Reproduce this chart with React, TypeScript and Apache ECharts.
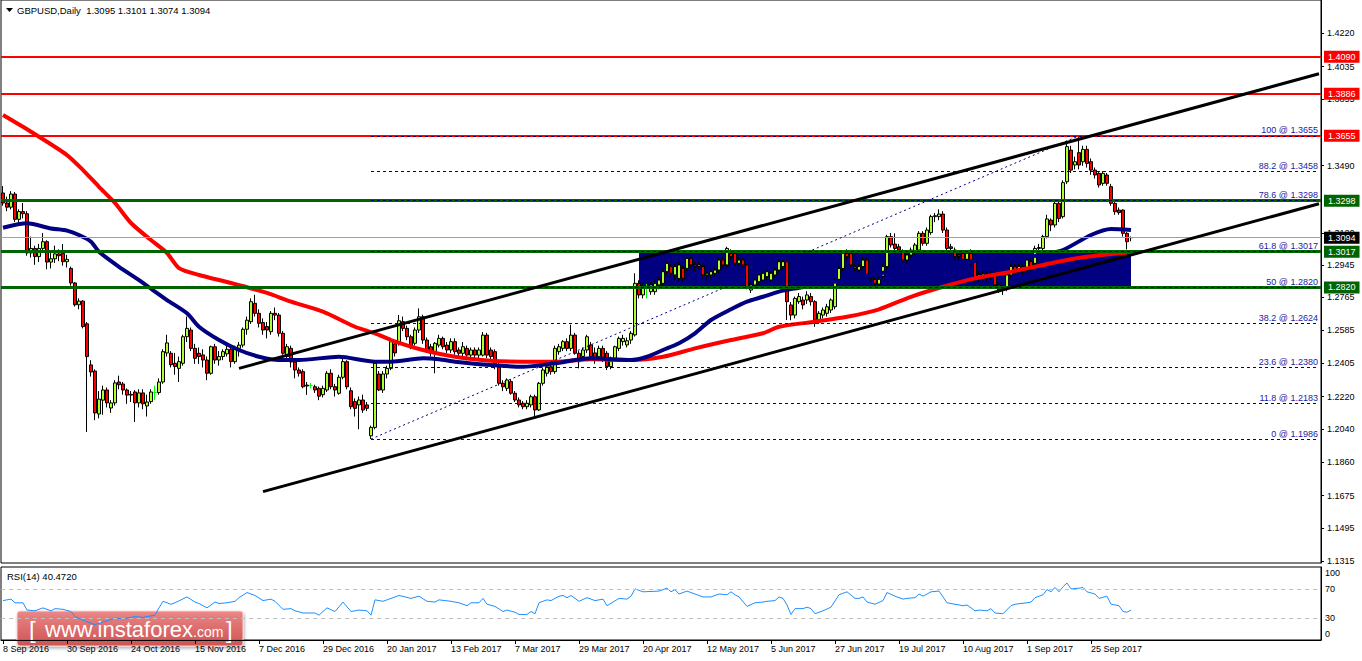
import React, { useEffect, useRef } from 'react';
import * as echarts from 'echarts';

const FONT = '"Liberation Sans", Arial, Helvetica, sans-serif';

const headerText = 'GBPUSD,Daily  1.3095 1.3101 1.3074 1.3094';
const rsiTitle = 'RSI(14) 40.4720';
const MONTHS = ['Jan', 'Feb', 'Mar', 'Apr', 'May', 'Jun', 'Jul', 'Aug', 'Sep', 'Oct', 'Nov', 'Dec'];
const SLOTS = 330;
const LABEL_STEP = 16;
const LAST_BAR = 282;

// daily bars: [open, close, low, high]
const candles: number[][] = [
  [1.3340, 1.3285, 1.3270, 1.3378], [1.3285, 1.3262, 1.3240, 1.3320], [1.3262, 1.3334, 1.3250, 1.3350], [1.3334, 1.3195, 1.3180, 1.3345],
  [1.3195, 1.3238, 1.3175, 1.3250], [1.3238, 1.3226, 1.3200, 1.3285], [1.3226, 1.3010, 1.2995, 1.3240], [1.3010, 1.3035, 1.2985, 1.3100],
  [1.3035, 1.2990, 1.2945, 1.3050], [1.2990, 1.3035, 1.2960, 1.3060], [1.3035, 1.3072, 1.3020, 1.3120], [1.3072, 1.2960, 1.2920, 1.3080],
  [1.2960, 1.2978, 1.2925, 1.3010], [1.2978, 1.3005, 1.2955, 1.3050], [1.3005, 1.2995, 1.2965, 1.3030], [1.3008, 1.2962, 1.2940, 1.3059],
  [1.2962, 1.2975, 1.2930, 1.3000], [1.2925, 1.2845, 1.2830, 1.2935], [1.2845, 1.2725, 1.2715, 1.2850], [1.2725, 1.2745, 1.2700, 1.2760],
  [1.2745, 1.2605, 1.2595, 1.2750], [1.2620, 1.2440, 1.2025, 1.2630], [1.2394, 1.2355, 1.2330, 1.2420], [1.2360, 1.2130, 1.2090, 1.2370],
  [1.2124, 1.2206, 1.2100, 1.2250], [1.2200, 1.2256, 1.2120, 1.2280], [1.2256, 1.2185, 1.2160, 1.2270], [1.2157, 1.2185, 1.2130, 1.2200],
  [1.2185, 1.2295, 1.2170, 1.2310], [1.2300, 1.2285, 1.2260, 1.2335], [1.2289, 1.2256, 1.2230, 1.2300], [1.2256, 1.2228, 1.2180, 1.2265],
  [1.2228, 1.2232, 1.2190, 1.2250], [1.2245, 1.2185, 1.2080, 1.2255], [1.2185, 1.2240, 1.2160, 1.2260], [1.2240, 1.2180, 1.2150, 1.2260],
  [1.2168, 1.2190, 1.2110, 1.2230], [1.2192, 1.2245, 1.2180, 1.2260], [1.2242, 1.2242, 1.2200, 1.2280], [1.2242, 1.2300, 1.2230, 1.2320],
  [1.2300, 1.2467, 1.2290, 1.2480], [1.2460, 1.2515, 1.2440, 1.2560], [1.2458, 1.2395, 1.2380, 1.2470], [1.2403, 1.2385, 1.2340, 1.2460],
  [1.2375, 1.2412, 1.2300, 1.2440], [1.2403, 1.2549, 1.2390, 1.2560], [1.2549, 1.2595, 1.2520, 1.2660], [1.2586, 1.2485, 1.2470, 1.2600],
  [1.2485, 1.2430, 1.2400, 1.2510], [1.2458, 1.2440, 1.2400, 1.2490], [1.2449, 1.2421, 1.2380, 1.2480], [1.2421, 1.2348, 1.2310, 1.2440],
  [1.2348, 1.2494, 1.2340, 1.2500], [1.2494, 1.2421, 1.2400, 1.2510], [1.2421, 1.2440, 1.2390, 1.2470], [1.2440, 1.2467, 1.2420, 1.2480],
  [1.2455, 1.2480, 1.2440, 1.2510], [1.2480, 1.2412, 1.2380, 1.2500], [1.2412, 1.2485, 1.2400, 1.2500], [1.2485, 1.2503, 1.2440, 1.2520],
  [1.2503, 1.2590, 1.2490, 1.2600], [1.2590, 1.2640, 1.2560, 1.2660], [1.2632, 1.2742, 1.2620, 1.2760], [1.2733, 1.2678, 1.2660, 1.2780],
  [1.2678, 1.2623, 1.2600, 1.2700], [1.2627, 1.2586, 1.2560, 1.2650], [1.2605, 1.2586, 1.2540, 1.2630], [1.2577, 1.2678, 1.2560, 1.2690],
  [1.2678, 1.2668, 1.2640, 1.2710], [1.2668, 1.2568, 1.2550, 1.2680], [1.2568, 1.2458, 1.2450, 1.2580], [1.2440, 1.2494, 1.2420, 1.2510],
  [1.2485, 1.2410, 1.2380, 1.2500], [1.2410, 1.2366, 1.2320, 1.2420], [1.2366, 1.2348, 1.2330, 1.2380], [1.2357, 1.2274, 1.2265, 1.2370],
  [1.2283, 1.2278, 1.2229, 1.2300], [1.2281, 1.2281, 1.2265, 1.2295], [1.2274, 1.2256, 1.2240, 1.2285], [1.2265, 1.2222, 1.2200, 1.2275],
  [1.2230, 1.2265, 1.2215, 1.2280], [1.2256, 1.2348, 1.2245, 1.2360], [1.2348, 1.2274, 1.2260, 1.2370], [1.2274, 1.2256, 1.2220, 1.2290],
  [1.2238, 1.2326, 1.2230, 1.2340], [1.2326, 1.2412, 1.2315, 1.2430], [1.2412, 1.2274, 1.2260, 1.2420], [1.2252, 1.2164, 1.2150, 1.2270],
  [1.2192, 1.2155, 1.2110, 1.2210], [1.2174, 1.2201, 1.2040, 1.2220], [1.2201, 1.2146, 1.2130, 1.2230], [1.2174, 1.2155, 1.2140, 1.2190],
  [1.2004, 1.2050, 1.1986, 1.2060], [1.2050, 1.2403, 1.2040, 1.2415], [1.2344, 1.2256, 1.2250, 1.2360], [1.2256, 1.2344, 1.2240, 1.2360],
  [1.2344, 1.2375, 1.2320, 1.2390], [1.2375, 1.2522, 1.2365, 1.2530], [1.2510, 1.2460, 1.2440, 1.2520], [1.2513, 1.2637, 1.2500, 1.2669],
  [1.2632, 1.2595, 1.2580, 1.2660], [1.2595, 1.2549, 1.2530, 1.2610], [1.2549, 1.2494, 1.2480, 1.2560], [1.2513, 1.2586, 1.2500, 1.2600],
  [1.2586, 1.2659, 1.2570, 1.2705], [1.2659, 1.2531, 1.2510, 1.2670], [1.2531, 1.2476, 1.2460, 1.2545], [1.2494, 1.2458, 1.2440, 1.2510],
  [1.2458, 1.2513, 1.2348, 1.2520], [1.2503, 1.2540, 1.2490, 1.2560], [1.2540, 1.2494, 1.2480, 1.2550], [1.2503, 1.2476, 1.2460, 1.2520],
  [1.2476, 1.2522, 1.2460, 1.2540], [1.2522, 1.2467, 1.2450, 1.2540], [1.2476, 1.2458, 1.2440, 1.2490], [1.2458, 1.2494, 1.2440, 1.2520],
  [1.2485, 1.2448, 1.2420, 1.2500], [1.2448, 1.2476, 1.2430, 1.2490], [1.2476, 1.2448, 1.2430, 1.2490], [1.2448, 1.2476, 1.2430, 1.2490],
  [1.2448, 1.2558, 1.2440, 1.2575], [1.2558, 1.2448, 1.2430, 1.2570], [1.2476, 1.2440, 1.2420, 1.2490], [1.2467, 1.2385, 1.2370, 1.2480],
  [1.2394, 1.2293, 1.2280, 1.2410], [1.2293, 1.2274, 1.2250, 1.2310], [1.2265, 1.2311, 1.2250, 1.2320], [1.2302, 1.2238, 1.2230, 1.2315],
  [1.2238, 1.2201, 1.2190, 1.2250], [1.2201, 1.2174, 1.2160, 1.2215], [1.2183, 1.2164, 1.2150, 1.2195], [1.2164, 1.2183, 1.2150, 1.2200],
  [1.2174, 1.2219, 1.2160, 1.2230], [1.2219, 1.2146, 1.2109, 1.2230], [1.2146, 1.2293, 1.2140, 1.2300], [1.2293, 1.2366, 1.2280, 1.2380],
  [1.2348, 1.2384, 1.2330, 1.2400], [1.2384, 1.2357, 1.2340, 1.2395], [1.2357, 1.2485, 1.2345, 1.2500], [1.2467, 1.2494, 1.2450, 1.2510],
  [1.2485, 1.2522, 1.2470, 1.2530], [1.2522, 1.2485, 1.2470, 1.2540], [1.2485, 1.2558, 1.2470, 1.2615], [1.2558, 1.2458, 1.2450, 1.2570],
  [1.2458, 1.2412, 1.2375, 1.2470], [1.2440, 1.2476, 1.2420, 1.2490], [1.2476, 1.2549, 1.2460, 1.2560], [1.2504, 1.2440, 1.2430, 1.2520],
  [1.2460, 1.2421, 1.2400, 1.2490], [1.2439, 1.2485, 1.2430, 1.2500], [1.2485, 1.2430, 1.2410, 1.2500], [1.2458, 1.2385, 1.2366, 1.2470],
  [1.2385, 1.2430, 1.2370, 1.2440], [1.2430, 1.2494, 1.2420, 1.2500], [1.2485, 1.2540, 1.2470, 1.2550], [1.2522, 1.2540, 1.2500, 1.2560],
  [1.2504, 1.2527, 1.2490, 1.2545], [1.2531, 1.2568, 1.2510, 1.2580], [1.2559, 1.2843, 1.2550, 1.2898], [1.2843, 1.2779, 1.2760, 1.2860],
  [1.2779, 1.2824, 1.2760, 1.2840], [1.2815, 1.2815, 1.2760, 1.2840], [1.2797, 1.2834, 1.2780, 1.2850], [1.2797, 1.2843, 1.2780, 1.2860],
  [1.2834, 1.2861, 1.2810, 1.2880], [1.2843, 1.2907, 1.2830, 1.2920], [1.2907, 1.2953, 1.2890, 1.2965], [1.2935, 1.2898, 1.2880, 1.2950],
  [1.2889, 1.2935, 1.2860, 1.2950], [1.2870, 1.2944, 1.2850, 1.2960], [1.2925, 1.2870, 1.2850, 1.2940], [1.2925, 1.2980, 1.2910, 1.2990],
  [1.2980, 1.2944, 1.2930, 1.2990], [1.2944, 1.2935, 1.2910, 1.2960], [1.2935, 1.2944, 1.2920, 1.2960], [1.2935, 1.2889, 1.2870, 1.2950],
  [1.2889, 1.2898, 1.2860, 1.2910], [1.2889, 1.2907, 1.2870, 1.2920], [1.2898, 1.2916, 1.2880, 1.2930], [1.2916, 1.2971, 1.2900, 1.2985],
  [1.2971, 1.2944, 1.2930, 1.2990], [1.2944, 1.3035, 1.2930, 1.3044], [1.3008, 1.2990, 1.2970, 1.3030], [1.3008, 1.2953, 1.2940, 1.3020],
  [1.2953, 1.2971, 1.2940, 1.2985], [1.2971, 1.2944, 1.2930, 1.2985], [1.2944, 1.2824, 1.2810, 1.2950], [1.2806, 1.2834, 1.2790, 1.2845],
  [1.2834, 1.2861, 1.2820, 1.2870], [1.2852, 1.2889, 1.2840, 1.2900], [1.2861, 1.2898, 1.2850, 1.2910], [1.2880, 1.2907, 1.2860, 1.2920],
  [1.2861, 1.2898, 1.2850, 1.2910], [1.2889, 1.2916, 1.2870, 1.2930], [1.2916, 1.2962, 1.2900, 1.2975], [1.2935, 1.2962, 1.2920, 1.2975],
  [1.2962, 1.2742, 1.2641, 1.2975], [1.2724, 1.2668, 1.2640, 1.2740], [1.2668, 1.2760, 1.2650, 1.2770], [1.2742, 1.2770, 1.2730, 1.2790],
  [1.2751, 1.2724, 1.2700, 1.2770], [1.2751, 1.2779, 1.2730, 1.2800], [1.2770, 1.2742, 1.2720, 1.2790], [1.2742, 1.2641, 1.2604, 1.2750],
  [1.2641, 1.2678, 1.2620, 1.2690], [1.2668, 1.2696, 1.2650, 1.2710], [1.2678, 1.2714, 1.2660, 1.2730], [1.2696, 1.2751, 1.2680, 1.2760],
  [1.2714, 1.2861, 1.2700, 1.2870], [1.2861, 1.2925, 1.2850, 1.2940], [1.2925, 1.3008, 1.2910, 1.3026], [1.3008, 1.2990, 1.2970, 1.3030],
  [1.3008, 1.2944, 1.2930, 1.3020], [1.2935, 1.2925, 1.2910, 1.2950], [1.2916, 1.2935, 1.2900, 1.2950], [1.2935, 1.2971, 1.2920, 1.2990],
  [1.2971, 1.2889, 1.2880, 1.2985], [1.2865, 1.2870, 1.2850, 1.2890], [1.2865, 1.2843, 1.2830, 1.2880], [1.2839, 1.2865, 1.2820, 1.2880],
  [1.2883, 1.2935, 1.2870, 1.2950], [1.2935, 1.3100, 1.2920, 1.3110], [1.3100, 1.3054, 1.3040, 1.3120], [1.3059, 1.3035, 1.3020, 1.3118],
  [1.3044, 1.3026, 1.3010, 1.3060], [1.3017, 1.2971, 1.2960, 1.3030], [1.2971, 1.2999, 1.2950, 1.3010], [1.2999, 1.3026, 1.2980, 1.3040],
  [1.3017, 1.3054, 1.3000, 1.3065], [1.3026, 1.3118, 1.3010, 1.3130], [1.3118, 1.3063, 1.3050, 1.3130], [1.3063, 1.3136, 1.3050, 1.3150],
  [1.3122, 1.3210, 1.3110, 1.3220], [1.3210, 1.3215, 1.3180, 1.3230], [1.3210, 1.3224, 1.3190, 1.3250], [1.3224, 1.3136, 1.3120, 1.3240],
  [1.3136, 1.3035, 1.3020, 1.3150], [1.3044, 1.3035, 1.3020, 1.3060], [1.3026, 1.2990, 1.2970, 1.3040], [1.2999, 1.2990, 1.2970, 1.3020],
  [1.3008, 1.2975, 1.2960, 1.3020], [1.2975, 1.3008, 1.2960, 1.3020], [1.3008, 1.2962, 1.2940, 1.3030], [1.2962, 1.2870, 1.2850, 1.2970],
  [1.2870, 1.2889, 1.2850, 1.2910], [1.2880, 1.2894, 1.2860, 1.2910], [1.2894, 1.2876, 1.2850, 1.2910], [1.2880, 1.2898, 1.2860, 1.2910],
  [1.2898, 1.2834, 1.2820, 1.2910], [1.2834, 1.2806, 1.2790, 1.2845], [1.2815, 1.2806, 1.2779, 1.2830], [1.2816, 1.2889, 1.2800, 1.2900],
  [1.2889, 1.2935, 1.2870, 1.2950], [1.2935, 1.2916, 1.2900, 1.2950], [1.2916, 1.2935, 1.2900, 1.2950], [1.2935, 1.2913, 1.2890, 1.2950],
  [1.2913, 1.2971, 1.2900, 1.2990], [1.2962, 1.2925, 1.2910, 1.2980], [1.2953, 1.3035, 1.2940, 1.3050], [1.3035, 1.3040, 1.3010, 1.3060],
  [1.3035, 1.3100, 1.3020, 1.3110], [1.3100, 1.3197, 1.3090, 1.3220], [1.3191, 1.3164, 1.3130, 1.3200], [1.3164, 1.3283, 1.3150, 1.3295],
  [1.3283, 1.3200, 1.3180, 1.3300], [1.3210, 1.3397, 1.3200, 1.3410], [1.3402, 1.3595, 1.3390, 1.3628], [1.3576, 1.3466, 1.3450, 1.3600],
  [1.3494, 1.3512, 1.3470, 1.3540], [1.3562, 1.3494, 1.3470, 1.3655], [1.3512, 1.3580, 1.3490, 1.3600], [1.3580, 1.3503, 1.3480, 1.3600],
  [1.3512, 1.3466, 1.3440, 1.3530], [1.3466, 1.3439, 1.3420, 1.3480], [1.3448, 1.3384, 1.3370, 1.3460], [1.3393, 1.3448, 1.3380, 1.3460],
  [1.3439, 1.3393, 1.3380, 1.3450], [1.3375, 1.3283, 1.3270, 1.3390], [1.3283, 1.3237, 1.3220, 1.3290], [1.3246, 1.3232, 1.3220, 1.3260],
  [1.3246, 1.3118, 1.3100, 1.3250], [1.3118, 1.3072, 1.3030, 1.3125], [1.3095, 1.3094, 1.3074, 1.3101],
];

// moving averages: [bar index, value]
const maBlue: number[][] = [
  [0, 1.3149], [6, 1.3173], [12, 1.3145], [16, 1.3133], [19, 1.3109], [22, 1.3072], [24, 1.3017], [29, 1.2934], [34, 1.2861],
  [38, 1.2797], [41, 1.2751], [46, 1.2678], [49, 1.2604], [54, 1.2531], [59, 1.2476], [64, 1.2439], [69, 1.2421], [74, 1.2421],
  [84, 1.2439], [93, 1.2412], [97, 1.2412], [105, 1.2430], [109, 1.2425], [113, 1.2412], [122, 1.2393], [130, 1.2384],
  [138, 1.2403], [147, 1.2430], [157, 1.2421], [161, 1.2439], [165, 1.2476], [169, 1.2513], [173, 1.2568], [177, 1.2641],
  [182, 1.2700], [186, 1.2742], [190, 1.2769], [194, 1.2797], [198, 1.2815], [210, 1.2860], [225, 1.2920], [240, 1.2960],
  [255, 1.2985], [261, 1.3005], [265, 1.3026], [272, 1.3109], [277, 1.3142], [282, 1.3136],
];
const maRed: number[][] = [
  [0, 1.3769], [7, 1.3677], [16, 1.3549], [20, 1.3466], [24, 1.3374], [28, 1.3285], [32, 1.3175], [37, 1.3081], [41, 1.3010],
  [44, 1.2927], [49, 1.2889], [57, 1.2845], [66, 1.2790], [72, 1.2742], [80, 1.2687], [88, 1.2604], [93, 1.2568], [97, 1.2531],
  [105, 1.2476], [113, 1.2439], [122, 1.2417], [130, 1.2412], [138, 1.2412], [147, 1.2425], [157, 1.2421], [165, 1.2439],
  [173, 1.2485], [182, 1.2531], [190, 1.2568], [194, 1.2604], [203, 1.2632], [211, 1.2659], [219, 1.2700], [227, 1.2769],
  [235, 1.2824], [243, 1.2870], [252, 1.2907], [260, 1.2944], [268, 1.2980], [277, 1.3004], [282, 1.3012],
];

// RSI(14): [bar index, value]
const rsi: number[][] = [
  [0, 54], [2, 56], [3, 51], [5, 51], [6, 41], [8, 40], [9, 42], [10, 44], [12, 40], [13, 43], [15, 42], [17, 39], [18, 32],
  [21, 25], [23, 21], [24, 23], [27, 28], [28, 30], [30, 29], [33, 32], [35, 31], [38, 34], [39, 44], [40, 53], [42, 49],
  [43, 51], [46, 59], [48, 52], [49, 50], [51, 44], [53, 52], [54, 50], [56, 51], [58, 53], [59, 58], [61, 65], [63, 61],
  [65, 54], [67, 56], [68, 53], [70, 42], [72, 43], [73, 40], [75, 37], [78, 37], [79, 34], [81, 44], [83, 39], [85, 52],
  [87, 39], [89, 41], [91, 40], [92, 34], [93, 55], [95, 53], [99, 61], [102, 57], [104, 60], [106, 53], [108, 52], [109, 55],
  [112, 53], [114, 51], [116, 47], [117, 51], [119, 51], [120, 57], [121, 49], [123, 46], [125, 39], [126, 41], [128, 38],
  [129, 35], [131, 35], [132, 39], [133, 36], [134, 51], [136, 55], [137, 54], [139, 60], [140, 61], [141, 58], [142, 61],
  [144, 53], [146, 58], [148, 54], [150, 56], [151, 47], [154, 57], [156, 56], [157, 60], [158, 70], [160, 66], [164, 67],
  [166, 71], [167, 66], [168, 69], [169, 63], [171, 67], [173, 63], [175, 59], [177, 59], [179, 63], [181, 62], [182, 66],
  [183, 62], [184, 59], [186, 46], [188, 51], [190, 52], [191, 53], [193, 54], [194, 59], [195, 57], [196, 48], [197, 35],
  [198, 43], [200, 43], [201, 45], [202, 43], [203, 36], [205, 40], [207, 45], [209, 62], [211, 66], [213, 57], [214, 57],
  [215, 59], [216, 52], [218, 49], [220, 54], [221, 65], [223, 60], [225, 56], [226, 57], [228, 58], [229, 63], [230, 60],
  [232, 66], [234, 67], [236, 51], [238, 49], [240, 47], [241, 48], [243, 40], [244, 41], [246, 40], [247, 43], [248, 37],
  [250, 36], [252, 47], [253, 49], [256, 51], [257, 52], [258, 58], [260, 62], [261, 69], [262, 66], [263, 72], [264, 66],
  [265, 73], [266, 78], [267, 70], [269, 71], [270, 72], [271, 66], [273, 63], [274, 57], [276, 60], [277, 49], [279, 47],
  [280, 39], [281, 38], [282, 41],
];

// visible price-scale labels (the ones hidden under the level boxes are left out)
const priceTicks = [1.1315, 1.1495, 1.1675, 1.1860, 1.2040, 1.2220, 1.2405, 1.2585, 1.2765, 1.2945, 1.3120, 1.3490, 1.3855, 1.4035, 1.4220];
const rsiTicks = [0, 30, 70, 100];
const rsiLevels = [70, 30];

const resistanceLevels = [1.4090, 1.3886, 1.3655];
const supportLevels = [1.3298, 1.3017, 1.2820];
const lastPrice = 1.3094;

const fibLevels = [0, 11.8, 23.6, 38.2, 50, 61.8, 78.6, 88.2, 100];
const fibPrices = [1.1986, 1.2183, 1.2380, 1.2624, 1.2820, 1.3017, 1.3298, 1.3458, 1.3655];
const fibLowBar = 92;
const fibHighBar = 269;
const fibEndBar = 329;

const channelLines: number[][][] = [
  [[59, 1.2375], [329, 1.3996]],
  [[65, 1.1697], [329, 1.3281]],
];
const zone: number[][] = [[159, 1.3017], [282, 1.2820]];

function buildDates(): string[] {
  const out: string[] = [];
  const d = new Date(Date.UTC(2016, 8, 8));
  while (out.length < SLOTS) {
    const wd = d.getUTCDay();
    if (wd !== 0 && wd !== 6) out.push(`${d.getUTCDate()} ${MONTHS[d.getUTCMonth()]} ${d.getUTCFullYear()}`);
    d.setUTCDate(d.getUTCDate() + 1);
  }
  return out;
}

function priceBox(v: number, bg: string) {
  return {
    show: true,
    position: 'end',
    distance: 3,
    formatter: v.toFixed(4),
    backgroundColor: bg,
    color: '#ffffff',
    padding: [2, 4, 1, 4],
    fontSize: 9,
    fontFamily: FONT,
  };
}

export default function App() {
  const ref = useRef<HTMLDivElement>(null);

  useEffect(() => {
    document.body.style.margin = '0';
    const chart = echarts.init(ref.current!, null, { renderer: 'svg' });
    const dates = buildDates();
    const showIdx = (i: number) => i % LABEL_STEP === 0 && i <= LAST_BAR;

    const hLines: any[] = [
      ...resistanceLevels.map((v) => ({ yAxis: v, lineStyle: { color: '#ff0000', width: 2, type: 'solid' }, label: priceBox(v, '#ff0000') })),
      ...supportLevels.map((v) => ({ yAxis: v, lineStyle: { color: '#006400', width: 3, type: 'solid' }, label: priceBox(v, '#006400') })),
      { yAxis: lastPrice, lineStyle: { color: '#a0a0a0', width: 1, type: 'solid' }, label: priceBox(lastPrice, '#000000') },
    ];
    const fibLines: any[] = fibPrices.map((p, k) => [
      {
        coord: [fibLowBar, p],
        lineStyle: { color: '#000080', width: 1, type: [3, 3] },
        label: {
          show: true,
          position: 'insideEndTop',
          distance: 1,
          formatter: `${fibLevels[k]} @ ${p.toFixed(4)}`,
          color: '#1a1aa6',
          fontSize: 9,
          fontFamily: FONT,
        },
      },
      { coord: [fibEndBar, p] },
    ]);
    const diag: any[] = [[
      { coord: [fibLowBar, fibPrices[0]], lineStyle: { color: '#000080', width: 1, type: [2, 3] }, label: { show: false } },
      { coord: [fibHighBar, fibPrices[fibPrices.length - 1]] },
    ]];
    const trend: any[] = channelLines.map(([a, b]) => [
      { coord: a, lineStyle: { color: '#000000', width: 3, type: 'solid' }, label: { show: false } },
      { coord: b },
    ]);

    const option: any = {
      animation: false,
      backgroundColor: '#ffffff',
      textStyle: { fontFamily: FONT },
      grid: [
        { left: 1, top: 0, width: 1320, height: 563, show: true, borderColor: '#000', borderWidth: 1, backgroundColor: '#fff' },
        { left: 1, top: 567, width: 1320, height: 73, show: true, borderColor: '#000', borderWidth: 1, backgroundColor: '#fff' },
      ],
      xAxis: [
        {
          type: 'category', gridIndex: 0, data: dates, boundaryGap: true,
          axisLine: { show: false }, axisTick: { show: false }, axisLabel: { show: false }, splitLine: { show: false },
        },
        {
          type: 'category', gridIndex: 1, data: dates, boundaryGap: true,
          axisLine: { show: true, lineStyle: { color: '#000', width: 1 } },
          axisTick: { show: true, alignWithLabel: true, interval: showIdx, length: 4, lineStyle: { color: '#000' } },
          axisLabel: { interval: showIdx, align: 'left', margin: 4, fontSize: 9, fontFamily: FONT, color: '#000' },
          splitLine: { show: false },
        },
      ],
      yAxis: [
        {
          type: 'value', gridIndex: 0, position: 'right', min: 1.1304, max: 1.4402,
          splitLine: { show: false },
          axisLine: { show: true, lineStyle: { color: '#000', width: 1 } },
          axisTick: { show: true, customValues: priceTicks, length: 3, lineStyle: { color: '#000' } },
          axisLabel: {
            customValues: priceTicks, margin: 6, fontSize: 9, fontFamily: FONT, color: '#000',
            formatter: (v: number) => v.toFixed(4),
          },
        },
        {
          type: 'value', gridIndex: 1, position: 'right', min: 0, max: 100,
          splitLine: { show: false },
          axisLine: { show: true, lineStyle: { color: '#000', width: 1 } },
          axisTick: { show: false },
          axisLabel: {
            customValues: rsiTicks, margin: 4, fontSize: 9, fontFamily: FONT, color: '#000',
            formatter: (v: number) => (v === 100 ? '{t|100}' : v === 0 ? '{b|0}' : String(v)),
            rich: {
              t: { padding: [12, 0, 0, 0], fontSize: 9, fontFamily: FONT, color: '#000' },
              b: { padding: [0, 0, 12, 0], fontSize: 9, fontFamily: FONT, color: '#000' },
            },
          },
        },
      ],
      series: [
        {
          type: 'line', xAxisIndex: 0, yAxisIndex: 0, data: [], z: 1, silent: true,
          markArea: {
            silent: true,
            itemStyle: { color: '#000080' },
            data: [[{ coord: zone[0] }, { coord: zone[1] }]],
          },
        },
        {
          type: 'candlestick', xAxisIndex: 0, yAxisIndex: 0, data: candles, z: 3, barWidth: 3,
          itemStyle: {
            color: '#adff2f', color0: '#ff0000', borderColor: '#000000', borderColor0: '#000000',
            borderColorDoji: '#00ff00', borderWidth: 1,
          },
          silent: true,
        },
        {
          type: 'line', xAxisIndex: 0, yAxisIndex: 0, data: maRed, z: 4, symbol: 'none', smooth: 0.25,
          lineStyle: { color: '#ff0000', width: 4 }, silent: true,
        },
        {
          type: 'line', xAxisIndex: 0, yAxisIndex: 0, data: maBlue, z: 4, symbol: 'none', smooth: 0.25,
          lineStyle: { color: '#000080', width: 4 }, silent: true,
        },
        {
          type: 'line', xAxisIndex: 0, yAxisIndex: 0, data: [], z: 5, silent: true,
          markLine: {
            silent: true, animation: false, symbol: ['none', 'none'], precision: 6,
            label: { show: false },
            emphasis: { disabled: true },
            data: [...hLines, ...fibLines, ...diag, ...trend],
          },
        },
        {
          type: 'line', xAxisIndex: 1, yAxisIndex: 1, data: rsi, z: 3, symbol: 'none',
          lineStyle: { color: '#1e90ff', width: 1 }, silent: true,
          markLine: {
            silent: true, animation: false, symbol: ['none', 'none'], label: { show: false }, precision: 6,
            lineStyle: { color: '#c0c0c0', width: 1, type: [4, 4] },
            data: rsiLevels.map((v) => ({ yAxis: v })),
          },
        },
      ],
      graphic: [
        { type: 'polygon', shape: { points: [[6, 8], [13, 8], [9.5, 12]] }, style: { fill: '#000' } },
        { type: 'text', x: 17, y: 10, style: { text: headerText, fill: '#000', fontSize: 9.5, fontFamily: FONT, verticalAlign: 'middle' } },
        { type: 'text', x: 7, y: 576, style: { text: rsiTitle, fill: '#000', fontSize: 9.5, fontFamily: FONT, verticalAlign: 'middle' } },
        {
          type: 'group', x: 17, y: 611, z: 100,
          children: [
            {
              type: 'rect', shape: { x: 0, y: 0, width: 226, height: 35, r: 3 },
              style: {
                fill: new echarts.graphic.LinearGradient(0, 0, 0, 1, [
                  { offset: 0, color: 'rgba(236,128,128,0.9)' },
                  { offset: 1, color: 'rgba(208,72,72,0.9)' },
                ]),
                stroke: 'rgba(255,215,215,0.9)', lineWidth: 1,
                shadowBlur: 3, shadowColor: 'rgba(0,0,0,0.35)', shadowOffsetX: 1, shadowOffsetY: 2,
              },
            },
            { type: 'text', x: 12, y: 18, style: { text: '[', fill: '#fff', fontSize: 24, fontFamily: FONT, verticalAlign: 'middle' } },
            { type: 'text', x: 28, y: 29, style: { text: 'www.instaforex', fill: '#fff', fontSize: 22, fontFamily: FONT, verticalAlign: 'bottom' } },
            { type: 'text', x: 176, y: 28, style: { text: '.com', fill: '#fff', fontSize: 14, fontFamily: FONT, verticalAlign: 'bottom' } },
            { type: 'text', x: 209, y: 18, style: { text: ']', fill: '#fff', fontSize: 24, fontFamily: FONT, verticalAlign: 'middle' } },
          ],
        },
      ],
    };

    chart.setOption(option);
    return () => chart.dispose();
  }, []);

  return <div ref={ref} style={{ width: 1362, height: 661, position: 'absolute', left: 0, top: 0 }} />;
}
